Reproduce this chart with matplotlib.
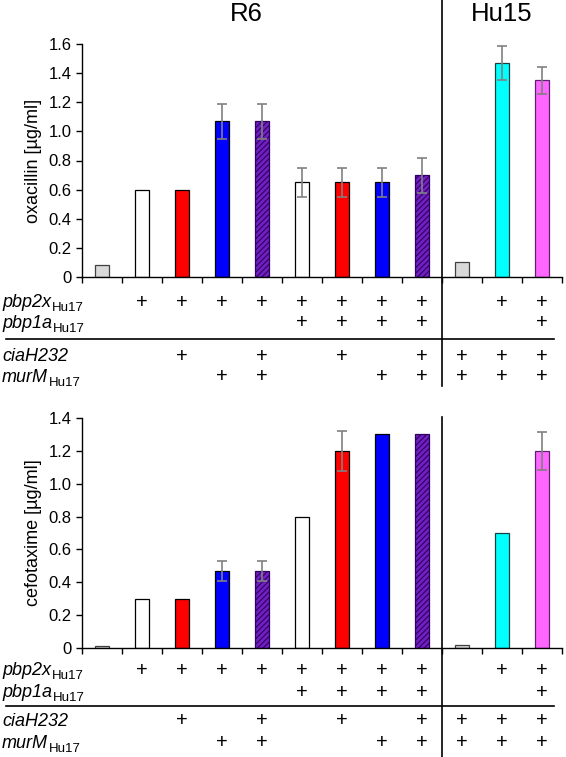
import matplotlib
matplotlib.use("Agg")
import matplotlib.pyplot as plt
from matplotlib.lines import Line2D
from matplotlib.transforms import blended_transform_factory

plt.rcParams["font.family"] = ["Liberation Sans", "DejaVu Sans"]
plt.rcParams["hatch.linewidth"] = 0.8

# 12 strains: 9 in R6 background, 3 in Hu15 background
oxa_vals = [0.08, 0.60, 0.60, 1.07, 1.07, 0.65, 0.65, 0.65, 0.70, 0.10, 1.47, 1.35]
oxa_err = [0, 0, 0, 0.12, 0.12, 0.10, 0.10, 0.10, 0.12, 0, 0.115, 0.095]
ctx_vals = [0.015, 0.30, 0.30, 0.47, 0.47, 0.80, 1.20, 1.30, 1.30, 0.02, 0.70, 1.20]
ctx_err = [0, 0, 0, 0.06, 0.06, 0, 0.12, 0, 0, 0, 0, 0.115]

bar_colors = ["#d9d9d9", "white", "#ff0000", "#0000ff", "#7020c0", "white",
              "#ff0000", "#0000ff", "#7020c0", "#d9d9d9", "#00ffff", "#ff66ff"]
edge_colors = ["#404040", "black", "black", "black", "#300060", "black",
               "black", "black", "#300060", "#404040", "#1a4040", "#602070"]
hatches = [None, None, None, None, "//////", None, None, None, "//////", None, None, None]

row_names = ["pbp2x", "pbp1a", "ciaH232", "murM"]
row_subs = ["Hu17", "Hu17", "", "Hu17"]
row_marks = [
    [0, 1, 1, 1, 1, 1, 1, 1, 1, 0, 1, 1],
    [0, 0, 0, 0, 0, 1, 1, 1, 1, 0, 0, 1],
    [0, 0, 1, 0, 1, 0, 1, 0, 1, 1, 1, 1],
    [0, 0, 0, 1, 1, 0, 0, 1, 1, 1, 1, 1],
]

W, H = 566, 757
fig = plt.figure(figsize=(W / 100, H / 100), dpi=100)


def panel(y_top, y_bottom, vals, errs, ymax, ylabel, row_y, line_y, vline_top, vline_bottom):
    ax = fig.add_axes([82 / W, 1 - y_bottom / H, 480 / W, (y_bottom - y_top) / H])
    xs = list(range(len(vals)))
    for i in xs:
        ax.bar(i, vals[i], width=0.33, color=bar_colors[i], edgecolor=edge_colors[i],
               linewidth=0.9, hatch=hatches[i], zorder=2)
        if errs[i] > 0:
            ax.errorbar(i, vals[i], yerr=errs[i], color="#808080", capsize=3.5,
                        elinewidth=1.2, capthick=1.2, zorder=3)
    ax.set_xlim(-0.5, 11.5)
    ax.set_ylim(0, ymax)
    ax.set_xticks([i - 0.5 for i in range(13)])
    ax.set_xticklabels([])
    yt = [round(0.2 * k, 1) for k in range(int(round(ymax / 0.2)) + 1)]
    ax.set_yticks(yt)
    ax.set_yticklabels(["0"] + [f"{v:.1f}" for v in yt[1:]], fontsize=12)
    ax.tick_params(direction="out", length=4, width=1)
    ax.spines["top"].set_visible(False)
    ax.spines["right"].set_visible(False)
    ax.spines["left"].set_linewidth(1)
    ax.spines["bottom"].set_linewidth(1)
    ax.set_ylabel(ylabel, fontsize=13)
    ax.yaxis.set_label_coords(-0.083, 0.5)

    tr = blended_transform_factory(ax.transData, fig.transFigure)
    for r, marks in enumerate(row_marks):
        yf = 1 - row_y[r] / H
        base = 1 - (row_y[r] + 5) / H
        t = fig.text(2 / W, base, row_names[r], fontsize=13,
                     style="italic", ha="left", va="baseline")
        if row_subs[r]:
            ax.annotate(row_subs[r], xy=(1, base), xycoords=(t, "figure fraction"),
                        xytext=(0.5, -3), textcoords="offset points", fontsize=9.5,
                        ha="left", va="baseline", annotation_clip=False)
        for i, m in enumerate(marks):
            if m:
                ax.text(i, yf, "+", transform=tr, fontsize=14.5, ha="center", va="center",
                        clip_on=False)
    fig.add_artist(Line2D([6 / W, 554 / W], [1 - line_y / H] * 2, color="black", lw=1.2))
    fig.add_artist(Line2D([442 / W] * 2, [1 - vline_top / H, 1 - vline_bottom / H],
                          color="black", lw=1.2))
    return ax


ax1 = panel(44, 277, oxa_vals, oxa_err, 1.6, "oxacillin [µg/ml]",
            [302, 323, 356, 377], 339, 0, 386)
ax2 = panel(418, 648, ctx_vals, ctx_err, 1.4, "cefotaxime [µg/ml]",
            [670, 692, 721, 743], 706, 417, 757)

tr = blended_transform_factory(ax1.transData, fig.transFigure)
ax1.text(3.6, 1 - 14 / H, "R6", transform=tr, fontsize=18.5, ha="center", va="center")
ax1.text(10.0, 1 - 14 / H, "Hu15", transform=tr, fontsize=18.5, ha="center", va="center")

fig.savefig("out.png", dpi=100)
